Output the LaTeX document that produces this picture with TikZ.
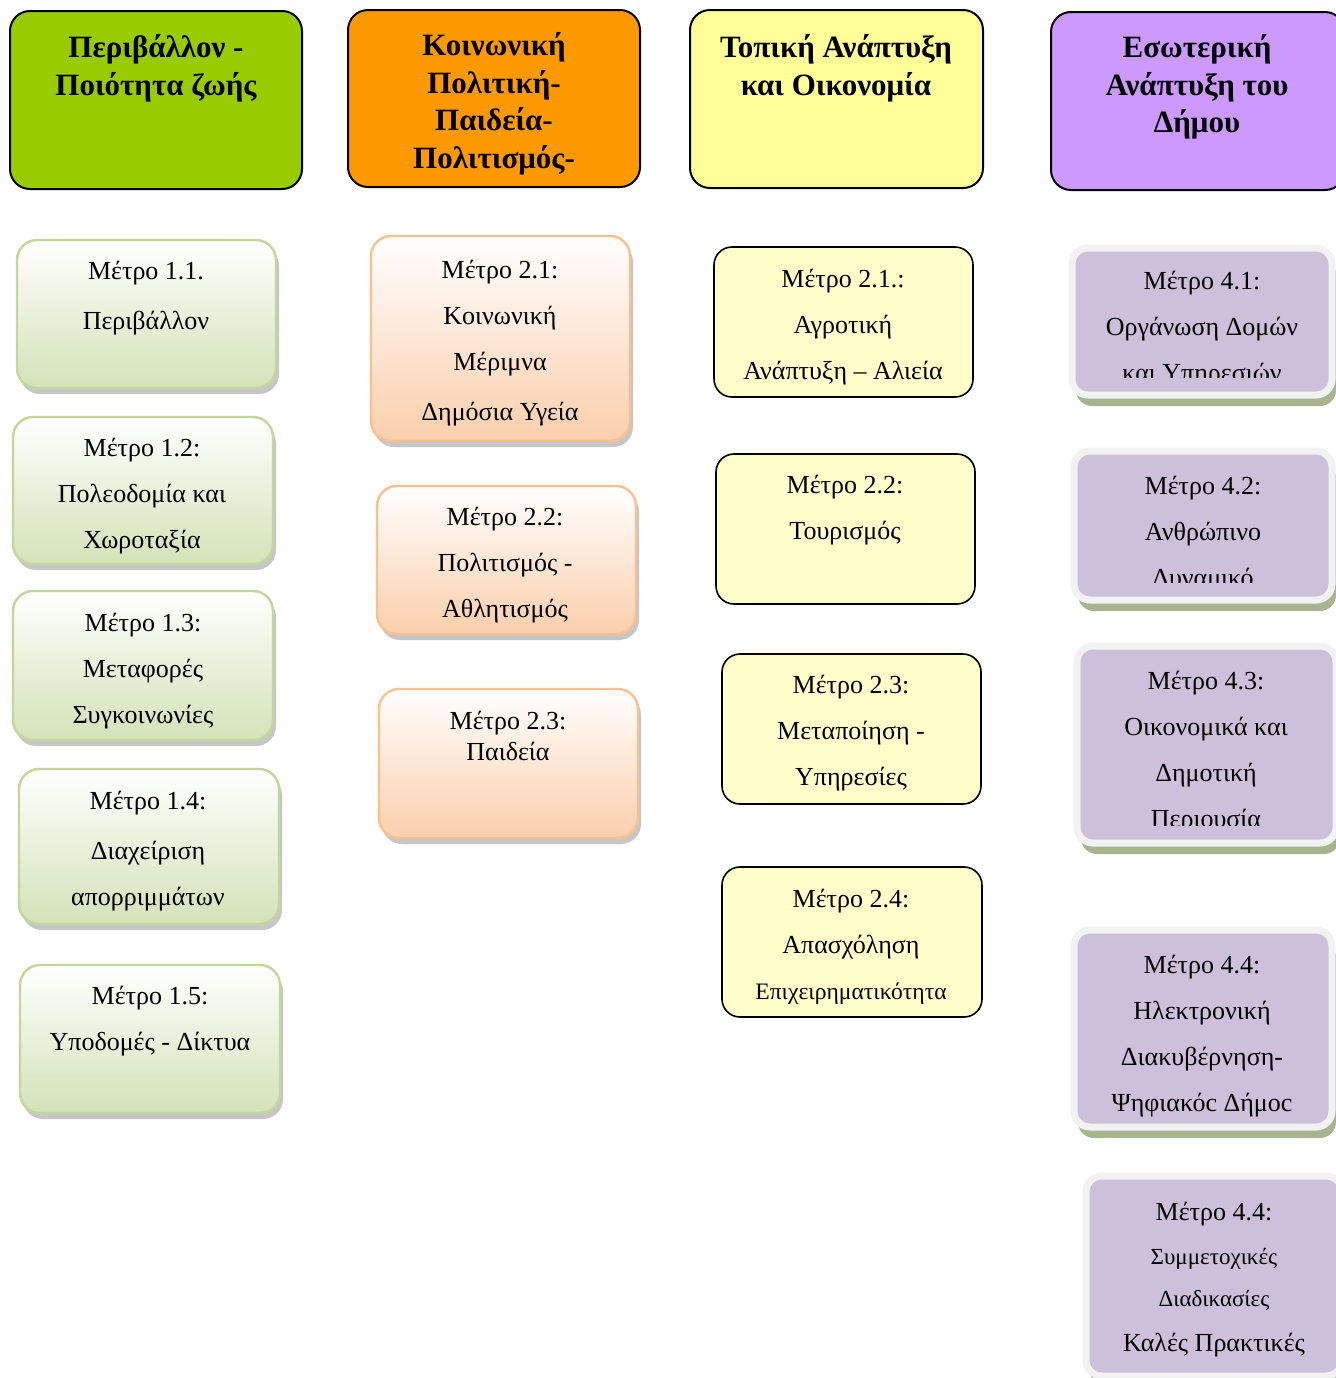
\documentclass[tikz,border=0pt]{standalone}
\usepackage{fontspec}
\setmainfont{Liberation Serif}
\usetikzlibrary{fit,shadows}

\definecolor{hgreen}{HTML}{99CC00}
\definecolor{horange}{HTML}{FF9900}
\definecolor{hyellow}{HTML}{FFFF99}
\definecolor{hpurple}{HTML}{CC99FF}
\definecolor{mgreen}{HTML}{D4E2B8}
\definecolor{mgreenline}{HTML}{C3D69B}
\definecolor{morange}{HTML}{FBCFAC}
\definecolor{morangeline}{HTML}{FAC090}
\definecolor{myellow}{HTML}{FFFFCC}
\definecolor{mpurple}{HTML}{CCC0DA}
\definecolor{mpurpleline}{HTML}{F2F2F2}
\definecolor{pshadow}{HTML}{A9B48F}

\begin{document}
\begin{tikzpicture}[x=0.5pt, y=-0.5pt,
	head/.style={draw=black, line width=1pt, rounded corners=10pt, inner sep=0pt},
	headtext/.style={anchor=north, yshift=7.9pt, align=center, inner sep=0pt, font=\fontsize{15.5}{18.75}\selectfont\bfseries},
	gbox/.style={draw=mgreenline, line width=1.2pt, rounded corners=10pt, inner sep=0pt, top color=white, bottom color=mgreen,
		drop shadow={shadow xshift=1.5pt, shadow yshift=-3pt, fill=gray!45, opacity=1}},
	obox/.style={gbox, draw=morangeline, bottom color=morange},
	ybox/.style={draw=black, line width=0.8pt, rounded corners=9pt, inner sep=0pt, fill=myellow},
	pbox/.style={draw=mpurpleline, line width=3.5pt, rounded corners=8pt, inner sep=0pt, fill=mpurple,
		drop shadow={shadow xshift=2pt, shadow yshift=-5.5pt, fill=pshadow, opacity=1}},
	mtext/.style={anchor=north, yshift=12.1pt, align=center, inner sep=0pt, font=\fontsize{13}{23}\selectfont},
	]
	\clip (0,0) rectangle (1336,1378);

	% Άξονες
		\node[head, fill=hgreen, fit={(10,11) (302,189)}] (h1) {};
		\node[head, fill=horange, fit={(348,10) (640,187)}] (h2) {};
		\node[head, fill=hyellow, fit={(690,10) (983,188)}] (h3) {};
		\node[head, fill=hpurple, fit={(1051,12) (1345,190)}] (h4) {};
		\node[headtext] (th1) at (156,47) {\strut Περιβάλλον -\\ Ποιότητα ζωής};
		\node[headtext] (th2) at (494,45) {\strut Κοινωνική\\ Πολιτική-\\ Παιδεία-\\ Πολιτισμός-};
		\node[headtext] (th3) at (836,47) {\strut Τοπική Ανάπτυξη\\ και Οικονομία};
		\node[headtext] (th4) at (1197,47) {\strut Εσωτερική\\ Ανάπτυξη του\\ Δήμου};

	% Μέτρα 1
		\node[gbox, fit={(17,240) (276,388)}] (m11) {};
		\node[gbox, fit={(13,417) (273,564)}] (m12) {};
		\node[gbox, fit={(13,591) (273,740)}] (m13) {};
		\node[gbox, fit={(19,769) (279,924)}] (m14) {};
		\node[gbox, fit={(20,965) (280,1113)}] (m15) {};
		\node[mtext] (t11) at (146,271) {\strut Μέτρο 1.1.\\[2pt] Περιβάλλον};
		\node[mtext] (t12) at (142,448) {\strut Μέτρο 1.2:\\ Πολεοδομία και\\ Χωροταξία};
		\node[mtext] (t13) at (143,623) {\strut Μέτρο 1.3:\\ Μεταφορές\\ Συγκοινωνίες};
		\node[mtext] (t14) at (148,801) {\strut Μέτρο 1.4:\\[2pt] Διαχείριση\\ απορριμμάτων};
		\node[mtext] (t15) at (150,996) {\strut Μέτρο 1.5:\\ Υποδομές - Δίκτυα};

	% Μέτρα 2
		\node[obox, fit={(371,236) (630,441)}] (m21) {};
		\node[obox, fit={(377,486) (636,634)}] (m22) {};
		\node[obox, fit={(379,689) (638,838)}] (m23) {};
		\node[mtext] (t21) at (500,270) {\strut Μέτρο 2.1:\\ Κοινωνική\\ Μέριμνα\\[2pt] Δημόσια Υγεία};
		\node[mtext] (t22) at (505,517) {\strut Μέτρο 2.2:\\ Πολιτισμός -\\ Αθλητισμός};
		\node[mtext] (t23) at (508,721) {\strut Μέτρο 2.3:\\[-7.5pt] Παιδεία};

	% Μέτρα 3
		\node[ybox, fit={(714,247) (973,397)}] (m31) {};
		\node[ybox, fit={(716,454) (975,604)}] (m32) {};
		\node[ybox, fit={(722,654) (981,804)}] (m33) {};
		\node[ybox, fit={(722,867) (982,1017)}] (m34) {};
		\node[mtext] (t31) at (843,279) {\strut Μέτρο 2.1.:\\ Αγροτική\\ Ανάπτυξη – Αλιεία};
		\node[mtext] (t32) at (845,485) {\strut Μέτρο 2.2:\\ Τουρισμός};
		\node[mtext] (t33) at (851,685) {\strut Μέτρο 2.3:\\ Μεταποίηση -\\ Υπηρεσίες};
		\node[mtext] (t34) at (851,899) {\strut Μέτρο 2.4:\\ Απασχόληση\\ {\fontsize{11.8}{14}\selectfont Επιχειρηματικότητα}};

	% Μέτρα 4
		\node[pbox, fit={(1072,248) (1332,395)}] (m41) {};
		\node[pbox, fit={(1074,451) (1332,600)}] (m42) {};
		\node[pbox, fit={(1077,646) (1336,843)}] (m43) {};
		\node[pbox, fit={(1074,930) (1332,1127)}] (m44) {};
		\node[pbox, fit={(1086,1176) (1342,1376)}] (m45) {};
		\begin{scope}
			\clip (1076,252) rectangle (1328,377);
			\node[mtext] (t41) at (1202,281) {\strut Μέτρο 4.1:\\ Οργάνωση Δομών\\ και Υπηρεσιών};
		\end{scope}
		\begin{scope}
			\clip (1078,455) rectangle (1328,582);
			\node[mtext] (t42) at (1203,486) {\strut Μέτρο 4.2:\\ Ανθρώπινο\\ Δυναμικό};
		\end{scope}
		\begin{scope}
			\clip (1081,650) rectangle (1332,825);
			\node[mtext] (t43) at (1206,681) {\strut Μέτρο 4.3:\\ Οικονομικά και\\ Δημοτική\\ Περιουσία};
		\end{scope}
		\node[mtext] (t44) at (1202,965) {\strut Μέτρο 4.4:\\ Ηλεκτρονική\\ Διακυβέρνηση-\\ Ψηφιακόc Δήμοc};
		\node[mtext] (t45) at (1214,1212) {\strut Μέτρο 4.4:\\[-1pt] {\fontsize{11.5}{14}\selectfont Συμμετοχικές}\\[-2pt] {\fontsize{11.5}{14}\selectfont Διαδικασίες}\\[-0.5pt] Καλές Πρακτικές};
\end{tikzpicture}
\end{document}
